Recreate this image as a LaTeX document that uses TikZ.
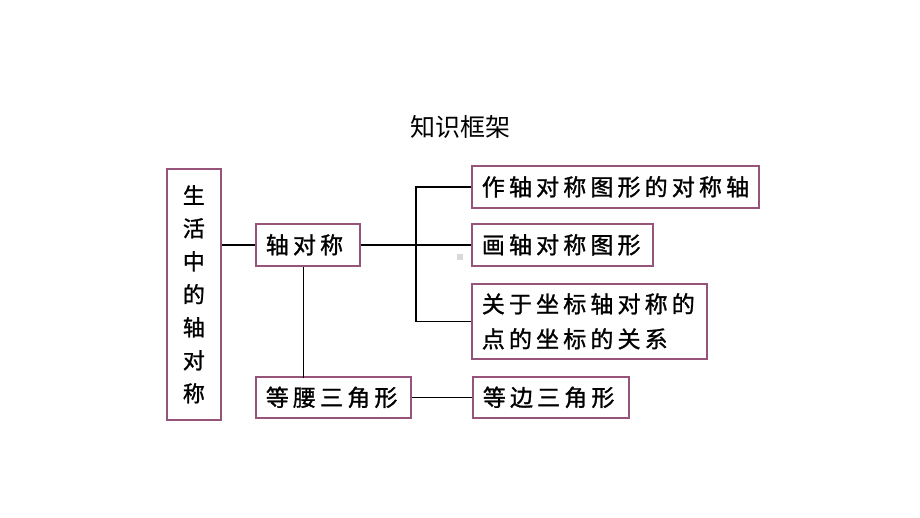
\documentclass[tikz,border=0pt]{standalone}
\usepackage{fontspec}
\usepackage{tikz}
\usetikzlibrary{positioning, calc}
\newfontfamily\cjk{Noto Sans CJK SC}
\newfontfamily\cjkbox[LetterSpace=18, FakeBold=1.2]{Noto Sans CJK SC}
\definecolor{boxline}{RGB}{150, 84, 122}

\tikzset{
    framebox/.style={draw=boxline, line width=1.7pt, fill=white, inner xsep=10pt, inner ysep=0pt,
        align=left, anchor=north west, font=\cjkbox\fontsize{23}{35}\selectfont},
    link/.style={line width=1.6pt, black}
}

\begin{document}
\begin{tikzpicture}[x=1pt, y=-1pt]
    \useasboundingbox[fill=white] (0,0) rectangle (920,518);

    % Title
    \node[font=\cjk\fontsize{25}{28}\selectfont] (title) at (460,127) {知识框架};

    % Boxes
    \node[framebox, align=center, text width=34pt, minimum height=251pt, inner xsep=10pt,
        font=\cjkbox\fontsize{22}{33}\selectfont] (life) at (166,168)
        {生\\活\\中\\的\\轴\\对\\称};
    \node[framebox, text width=84pt, minimum height=42pt] (axis) at (255,223) {轴对称};
    \node[framebox, text width=135pt, minimum height=41pt] (isos) at (255,376) {等腰三角形};
    \node[framebox, text width=267pt, minimum height=42pt] (draw1) at (471,165) {作轴对称图形的对称轴};
    \node[framebox, text width=161pt, minimum height=42pt] (draw2) at (471,223) {画轴对称图形};
    \node[framebox, text width=215pt, minimum height=75pt] (coord) at (471,283) {关于坐标轴对称的\\点的坐标的关系};
    \node[framebox, text width=136pt, minimum height=41pt] (equi) at (472,376) {等边三角形};

    % Connectors
    \coordinate (fork) at (416,244);
    \draw[link] (life.east |- axis.west) -- (axis.west);
    \draw[link] (axis.east) -- (draw2.west);
    \draw[link] (draw1.west) -| (fork) |- (coord.west);
    \draw[link] ($(axis.south west)!0.46!(axis.south east)$) -- ($(axis.south west)!0.46!(axis.south east) + (0,111)$);
    \draw[link] (isos.east) -- (equi.west);

    % small grey mark
    \fill[gray!30] (457,254) rectangle (463,260);
\end{tikzpicture}
\end{document}
